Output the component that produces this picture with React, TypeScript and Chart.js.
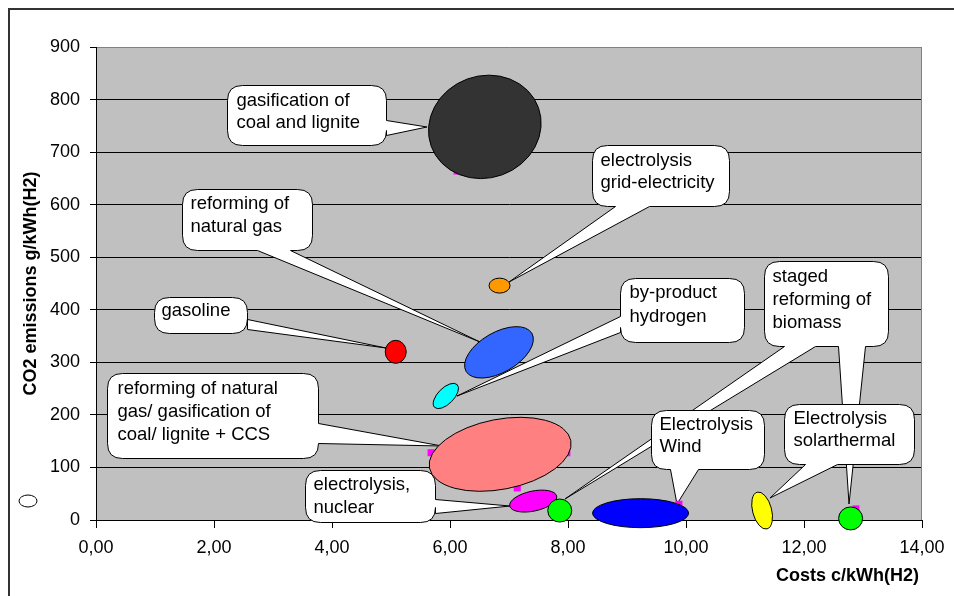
import React, { useEffect, useRef } from 'react';
import { Chart, registerables } from 'chart.js';

Chart.register(...registerables);

// ---------- data ----------
const X_MIN = 0;
const X_MAX = 14;
const X_STEP = 2;
const Y_MIN = 0;
const Y_MAX = 900;
const Y_STEP = 100;
const xTitle = 'Costs c/kWh(H2)';
const yTitle = 'CO2 emissions g/kWh(H2)';

// technologies drawn as ellipses (cost c/kWh, CO2 g/kWh)
const techNames = [
  'gasification of coal and lignite',
  'electrolysis grid-electricity',
  'gasoline',
  'reforming of natural gas',
  'by-product hydrogen',
  'reforming of natural gas/ gasification of coal/ lignite + CCS',
  'electrolysis, nuclear',
  'staged reforming of biomass (a)',
  'Electrolysis Wind',
  'Electrolysis solarthermal',
  'staged reforming of biomass (b)',
];
const techCost = [6.59, 6.84, 5.08, 6.83, 5.93, 6.85, 7.41, 7.86, 9.23, 11.29, 12.79];
const techCO2 = [748, 446, 320, 319, 236, 125, 36, 18, 13, 18, 3];
const techColor = ['#333333', '#FF9900', '#FF0000', '#3366FF', '#00FFFF', '#FF8080', '#FF00FF', '#00FF00', '#0000FF', '#FFFF00', '#00FF00'];

// small underlying markers
const markCost = [6.12, 5.68, 7.98, 7.14, 9.88, 12.88];
const markCO2 = [664, 128, 128, 61, 30, 21];

// callout texts
const calloutText = [
  ['staged', 'reforming of', 'biomass'],
  ['gasification of', 'coal and lignite'],
  ['electrolysis', 'grid-electricity'],
  ['reforming of', 'natural gas'],
  ['gasoline'],
  ['by-product', 'hydrogen'],
  ['reforming of natural', 'gas/ gasification of', 'coal/ lignite + CCS'],
  ['electrolysis,', 'nuclear'],
  ['Electrolysis', 'Wind'],
  ['Electrolysis', 'solarthermal'],
];
// anchor (top-left of box) in data units
const calloutBoxX = [11.322, 2.22, 8.407, 1.458, 0.983, 8.881, 0.186, 3.542, 9.407, 11.661];
const calloutBoxY = [492.8, 827.7, 713.5, 629.8, 424.3, 460.5, 279.7, 95.1, 209.3, 220.7];
// tail tips in data units (one or two per callout)
const calloutTipX = [[7.949, 12.763], [5.61], [7.0], [6.508], [4.915], [6.119], [5.864], [7.017], [9.847], [11.424]];
const calloutTipY = [[40, 30.4], [747.8], [452.8], [338.7], [327.3], [235.9], [140.8], [26.6], [30.4], [41.9]];

// ---------- styles (pixels) ----------
const ellRx = [57, 10.5, 10.5, 38, 16, 72, 24, 12, 48, 9.5, 12];
const ellRy = [51, 7.5, 11.5, 20, 8, 35, 10, 11.5, 14.5, 19, 11.5];
const ellRot = [-20, 0, 0, -30, -45, -11, -12, 0, 0, -15, 0];

const boxW = [124, 159, 137, 130, 93, 124, 211, 130, 113, 130];
const boxH = [85, 60, 61, 61, 36, 64, 85, 52, 59, 60];
// tail side and base offsets along that side
const tailSide = [['bottom', 'bottom'], ['right'], ['bottom'], ['bottom'], ['right'], ['left'], ['right'], ['right'], ['bottom'], ['bottom']];
const tailA = [[20, 74], [35], [23], [75], [22], [38], [50], [29], [19], [21]];
const tailB = [[51, 101], [50], [57], [108], [32], [54], [70], [43], [47], [53]];
const textPadX = [8, 9, 8, 8, 7, 9, 10, 8, 8, 9];
const textTop = [15, 15, 15, 14, 13, 14, 15, 14, 14, 14];
const textLH = [23, 22, 22, 23, 22, 24, 23, 23, 22, 22];

const FONT = '"Liberation Sans", Arial, sans-serif';

function calloutPath(ctx: CanvasRenderingContext2D, l: number, t: number, w: number, h: number, r: number, tails: any[]) {
  const R = l + w;
  const B = t + h;
  const side = (s: string) => tails.filter((tt) => tt.side === s);
  ctx.beginPath();
  ctx.moveTo(l + r, t);
  ctx.lineTo(R - r, t);
  ctx.quadraticCurveTo(R, t, R, t + r);
  side('right').sort((p, q) => p.a - q.a).forEach((tt) => {
    ctx.lineTo(R, t + tt.a);
    ctx.lineTo(tt.tx, tt.ty);
    ctx.lineTo(R, t + tt.b);
  });
  ctx.lineTo(R, B - r);
  ctx.quadraticCurveTo(R, B, R - r, B);
  side('bottom').sort((p, q) => q.a - p.a).forEach((tt) => {
    ctx.lineTo(l + tt.b, B);
    ctx.lineTo(tt.tx, tt.ty);
    ctx.lineTo(l + tt.a, B);
  });
  ctx.lineTo(l + r, B);
  ctx.quadraticCurveTo(l, B, l, B - r);
  side('left').sort((p, q) => q.a - p.a).forEach((tt) => {
    ctx.lineTo(l, t + tt.b);
    ctx.lineTo(tt.tx, tt.ty);
    ctx.lineTo(l, t + tt.a);
  });
  ctx.lineTo(l, t + r);
  ctx.quadraticCurveTo(l, t, l + r, t);
  ctx.closePath();
}

const overlay = {
  id: 'overlay',
  beforeDraw(chart: any) {
    const { ctx, chartArea } = chart;
    ctx.save();
    ctx.fillStyle = '#FFFFFF';
    ctx.fillRect(0, 0, chart.width, chart.height);
    ctx.fillStyle = '#C0C0C0';
    ctx.fillRect(chartArea.left, chartArea.top, chartArea.right - chartArea.left, chartArea.bottom - chartArea.top);
    ctx.restore();
  },
  beforeDatasetsDraw(chart: any) {
    const { ctx, chartArea, scales } = chart;
    ctx.save();
    // right border of plot area
    ctx.strokeStyle = '#808080';
    ctx.lineWidth = 1;
    ctx.beginPath();
    ctx.moveTo(Math.round(chartArea.right) - 0.5, chartArea.top);
    ctx.lineTo(Math.round(chartArea.right) - 0.5, chartArea.bottom);
    ctx.stroke();
    // callouts
    calloutText.forEach((lines, i) => {
      const l = Math.round(scales.x.getPixelForValue(calloutBoxX[i])) + 0.5;
      const t = Math.round(scales.y.getPixelForValue(calloutBoxY[i])) + 0.5;
      const tails = tailSide[i].map((s, k) => ({
        side: s,
        a: tailA[i][k],
        b: tailB[i][k],
        tx: scales.x.getPixelForValue(calloutTipX[i][k]),
        ty: scales.y.getPixelForValue(calloutTipY[i][k]),
      }));
      calloutPath(ctx, l, t, boxW[i], boxH[i], 15, tails);
      ctx.fillStyle = '#FFFFFF';
      ctx.fill();
      ctx.strokeStyle = '#000000';
      ctx.lineWidth = 1;
      ctx.stroke();
      ctx.fillStyle = '#000000';
      ctx.font = '18.5px ' + FONT;
      ctx.textAlign = 'left';
      ctx.textBaseline = 'middle';
      lines.forEach((ln, k) => {
        ctx.fillText(ln, l + textPadX[i], t + textTop[i] + k * textLH[i]);
      });
    });
    ctx.restore();
  },
  afterDatasetsDraw(chart: any) {
    const { ctx } = chart;
    const meta = chart.getDatasetMeta(0);
    ctx.save();
    meta.data.forEach((pt: any, i: number) => {
      ctx.beginPath();
      ctx.ellipse(pt.x, pt.y, ellRx[i], ellRy[i], (ellRot[i] * Math.PI) / 180, 0, Math.PI * 2);
      ctx.fillStyle = techColor[i];
      ctx.fill();
      ctx.strokeStyle = '#000000';
      ctx.lineWidth = 1;
      ctx.stroke();
    });
    ctx.restore();
  },
  afterDraw(chart: any) {
    const { ctx, chartArea } = chart;
    ctx.save();
    // outer frame
    ctx.fillStyle = '#333333';
    ctx.fillRect(8, 8, chart.width - 8, 2);
    ctx.fillRect(8, 8, 2, chart.height - 8);
    // legend remnant
    ctx.beginPath();
    ctx.ellipse(28, 501, 9, 6, 0, 0, Math.PI * 2);
    ctx.fillStyle = '#FFFFFF';
    ctx.fill();
    ctx.strokeStyle = '#000000';
    ctx.lineWidth = 1;
    ctx.stroke();
    // axis titles
    ctx.fillStyle = '#000000';
    ctx.font = 'bold 18px ' + FONT;
    ctx.textBaseline = 'middle';
    ctx.textAlign = 'right';
    ctx.fillText(xTitle, chartArea.right - 3, 576);
    ctx.translate(31, (chartArea.top + chartArea.bottom) / 2);
    ctx.rotate(-Math.PI / 2);
    ctx.textAlign = 'center';
    ctx.fillText(yTitle, 0, 0);
    ctx.restore();
  },
};

export default function App() {
  const ref = useRef<HTMLCanvasElement | null>(null);
  useEffect(() => {
    if (!ref.current) return;
    const chart = new Chart(ref.current, {
      type: 'scatter',
      data: {
        datasets: [
          {
            label: 'technologies',
            data: techCost.map((x, i) => ({ x, y: techCO2[i] })),
            pointRadius: 0,
            pointHoverRadius: 0,
          },
          {
            label: 'markers',
            data: markCost.map((x, i) => ({ x, y: markCO2[i] })),
            pointStyle: 'rect',
            pointRadius: 5,
            backgroundColor: '#FF00FF',
            borderWidth: 0,
          },
        ],
      },
      options: {
        animation: false,
        responsive: false,
        devicePixelRatio: 1,
        events: [],
        layout: { padding: { left: 0, top: 47, right: 32, bottom: 0 } },
        plugins: { legend: { display: false }, tooltip: { enabled: false }, title: { display: false } },
        scales: {
          x: {
            type: 'linear',
            min: X_MIN,
            max: X_MAX,
            ticks: {
              stepSize: X_STEP,
              autoSkip: false,
              maxRotation: 0,
              padding: 9,
              color: '#000000',
              font: { family: FONT, size: 18 },
              callback: (v: any) => Number(v).toFixed(2).replace('.', ','),
            },
            grid: { drawOnChartArea: false, drawTicks: true, tickLength: 8, color: '#000000', tickColor: '#000000' },
            border: { color: '#000000', width: 1 },
            afterFit: (s: any) => {
              s.height = 76;
            },
          },
          y: {
            type: 'linear',
            min: Y_MIN,
            max: Y_MAX,
            ticks: {
              stepSize: Y_STEP,
              padding: 10,
              color: '#000000',
              font: { family: FONT, size: 18 },
            },
            grid: {
              drawTicks: true,
              tickLength: 6,
              tickColor: '#000000',
              color: (c: any) => (c.tick && c.tick.value === Y_MAX ? '#808080' : '#000000'),
            },
            border: { color: '#000000', width: 1 },
            afterFit: (s: any) => {
              s.width = 96;
            },
          },
        },
      },
      plugins: [overlay],
    });
    return () => chart.destroy();
  }, []);
  return (
    <div style={{ position: 'fixed', left: 0, top: 0, width: 954, height: 596, background: '#fff' }}>
      <canvas ref={ref} width={954} height={596} style={{ width: 954, height: 596, display: 'block' }} />
    </div>
  );
}
